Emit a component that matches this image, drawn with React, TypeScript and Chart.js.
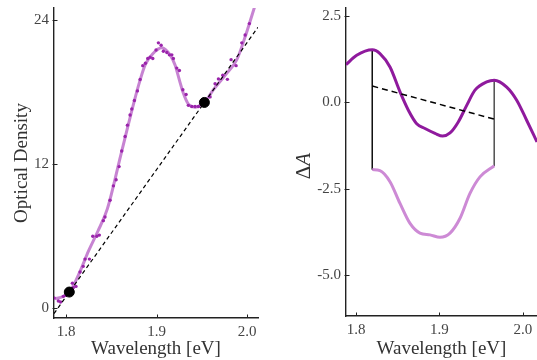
import React, { useEffect, useRef } from 'react';
import { Chart, registerables } from 'chart.js';

Chart.register(...registerables);

const FONT = "'Liberation Serif', 'Times New Roman', serif";

// ---------- Left panel: optical density ----------
const fitX = [1.7867, 1.797, 1.805, 1.815, 1.825, 1.835, 1.8457, 1.8606, 1.8755, 1.8818, 1.8876, 1.8958, 1.9057, 1.9149, 1.9204, 1.9252, 1.9296, 1.9351, 1.9425, 1.9525, 1.9628, 1.9757, 1.9886, 1.9978, 2.0033, 2.012];
const fitY = [0.8, 1.0, 1.5, 3.0, 4.8, 6.4, 8.3, 12.8, 17.3, 19.0, 20.3, 21.2, 21.7, 21.1, 20.25, 19.0, 17.9, 17.0, 16.75, 17.1, 18.2, 19.4, 20.7, 22.6, 23.9, 26.0];

const measX = [1.7867, 1.7915, 1.794, 1.797, 1.8, 1.807, 1.808, 1.811, 1.8155, 1.819, 1.821, 1.8258, 1.8295, 1.834, 1.8368, 1.8412, 1.843, 1.8486, 1.8523, 1.8553, 1.8586, 1.8615, 1.8652, 1.8678, 1.8707, 1.8726, 1.8755, 1.8788, 1.8818, 1.8847, 1.8876, 1.8902, 1.8928, 1.8958, 1.8994, 1.902, 1.905, 1.9075, 1.9113, 1.9141, 1.9168, 1.9185, 1.9223, 1.9252, 1.929, 1.9326, 1.9351, 1.9389, 1.9425, 1.9462, 1.9591, 1.9646, 1.9683, 1.9731, 1.9782, 1.9823, 1.9878, 1.9941, 1.9978, 2.0025];
const measY = [0.86, 0.61, 0.53, 1.0, 1.08, 2.1, 1.72, 1.83, 3.03, 3.5, 4.1, 4.1, 6.0, 6.0, 6.1, 7.3, 7.6, 9.0, 10.2, 10.7, 11.8, 13.1, 14.3, 15.25, 16.1, 16.6, 17.3, 18.1, 19.05, 20.2, 20.4, 20.8, 20.9, 20.8, 21.5, 22.1, 21.9, 21.4, 21.3, 21.1, 21.1, 20.8, 20.0, 19.8, 18.2, 17.8, 16.9, 16.8, 16.8, 16.8, 17.6, 18.7, 19.1, 19.4, 19.06, 20.7, 20.2, 22.1, 22.75, 23.7];

const baseX = [1.7867, 2.012];
const baseY = [-0.43, 23.4];
const anchorX = [1.8036, 1.9528];
const anchorY = [1.36, 17.14];

const leftXTicks = [1.8, 1.9, 2.0];
const leftYTicks = [0, 12, 24];

// ---------- Right panel: ΔA ----------
const dAX = [1.788, 1.8008, 1.8195, 1.8287, 1.8407, 1.8527, 1.8627, 1.8727, 1.8826, 1.8946, 1.9038, 1.9126, 1.9225, 1.9326, 1.9425, 1.9565, 1.9656, 1.9805, 1.9925, 2.0044, 2.0168];
const dAY = [1.09, 1.36, 1.52, 1.41, 1.02, 0.3, -0.23, -0.62, -0.76, -0.9, -0.98, -0.89, -0.57, -0.09, 0.35, 0.59, 0.64, 0.44, 0.06, -0.52, -1.15];

const corrX = [1.8195, 1.8287, 1.8407, 1.8527, 1.8647, 1.8766, 1.8886, 1.9006, 1.9126, 1.9246, 1.9365, 1.9485, 1.9656];
const corrY = [-1.95, -1.98, -2.3, -2.93, -3.51, -3.79, -3.84, -3.91, -3.79, -3.36, -2.64, -2.16, -1.84];

const chordX = [1.8195, 1.9656];
const chordY = [0.47, -0.49];
const leftEdgeY = [1.52, -1.95];
const rightEdgeY = [0.64, -1.84];

const rightXTicks = [1.8, 1.9, 2.0];
const rightYTicks = [2.5, 0, -2.5, -5.0];

const pts = (xs: number[], ys: number[]) => xs.map((x, i) => ({ x, y: ys[i] }));

const tickFont = { family: FONT, size: 15 };
const titleFont = { family: FONT, size: 19 };
const AXIS = '#222';
const TICKTXT = '#444';

function axisCommon() {
  return {
    grid: { display: true, drawOnChartArea: false, drawTicks: false, color: AXIS, lineWidth: 1 },
    border: { display: true, color: AXIS, width: 1.4 },
  };
}

function fixX(h: number) {
  return (s: any) => {
    s.height = h;
    s.paddingLeft = 0;
    s.paddingRight = 0;
  };
}
function fixY(w: number) {
  return (s: any) => {
    s.width = w;
    s.paddingTop = 0;
    s.paddingBottom = 0;
  };
}

// small inward tick marks, like the reference
const innerTicks = {
  id: 'innerTicks',
  afterDraw(chart: any) {
    const ctx = chart.ctx;
    const { x, y } = chart.scales;
    const a = chart.chartArea;
    ctx.save();
    ctx.strokeStyle = AXIS;
    ctx.lineWidth = 1;
    ctx.beginPath();
    x.ticks.forEach((t: any) => {
      const px = Math.round(x.getPixelForValue(t.value)) + 0.5;
      ctx.moveTo(px, a.bottom);
      ctx.lineTo(px, a.bottom - 3.5);
    });
    y.ticks.forEach((t: any) => {
      const py = Math.round(y.getPixelForValue(t.value)) + 0.5;
      ctx.moveTo(a.left - 1.5, py);
      ctx.lineTo(a.left + 3.5, py);
    });
    ctx.stroke();
    ctx.restore();
  },
};

const deltaALabel = {
  id: 'deltaALabel',
  afterDraw(chart: any) {
    const ctx = chart.ctx;
    ctx.save();
    ctx.translate(34, 166);
    ctx.rotate(-Math.PI / 2);
    ctx.fillStyle = '#333';
    ctx.textBaseline = 'middle';
    ctx.font = `21px ${FONT}`;
    const w1 = ctx.measureText('Δ').width;
    ctx.font = `italic 21px ${FONT}`;
    const w2 = ctx.measureText('A').width;
    const start = -(w1 + w2) / 2;
    ctx.font = `21px ${FONT}`;
    ctx.textAlign = 'left';
    ctx.fillText('Δ', start, 0);
    ctx.font = `italic 21px ${FONT}`;
    ctx.fillText('A', start + w1, 0);
    ctx.restore();
  },
};

export default function App() {
  const leftRef = useRef<HTMLCanvasElement>(null);
  const rightRef = useRef<HTMLCanvasElement>(null);

  useEffect(() => {
    const left = new Chart(leftRef.current!, {
      type: 'scatter',
      data: {
        datasets: [
          {
            label: 'fit',
            data: pts(fitX, fitY),
            showLine: true,
            borderColor: '#c784d2',
            borderWidth: 3,
            pointRadius: 0,
            cubicInterpolationMode: 'monotone',
            order: 4,
          },
          {
            label: 'measured',
            data: pts(measX, measY),
            showLine: false,
            backgroundColor: '#9a24ab',
            borderColor: '#9a24ab',
            pointRadius: 1.7,
            borderWidth: 0,
            order: 3,
          },
          {
            label: 'baseline',
            data: pts(baseX, baseY),
            showLine: true,
            borderColor: '#000',
            borderWidth: 1.2,
            borderDash: [4, 3],
            pointRadius: 0,
            order: 2,
          },
          {
            label: 'anchors',
            data: pts(anchorX, anchorY),
            showLine: false,
            backgroundColor: '#000',
            borderColor: '#000',
            pointRadius: 5,
            order: 1,
          },
        ],
      },
      options: {
        responsive: false,
        animation: false,
        layout: { padding: { left: 0, right: 12, top: 8, bottom: 0 } },
        plugins: { legend: { display: false }, tooltip: { enabled: false } },
        scales: {
          x: {
            type: 'linear',
            min: 1.7867,
            max: 2.012,
            ...axisCommon(),
            afterBuildTicks: (s: any) => { s.ticks = leftXTicks.map((v) => ({ value: v })); },
            afterFit: fixX(42),
            ticks: { font: tickFont, color: TICKTXT, padding: 5, callback: (v: any) => Number(v).toFixed(1) },
            title: { display: true, text: 'Wavelength [eV]', font: titleFont, color: '#333', padding: { top: 0, bottom: 0 } },
          },
          y: {
            type: 'linear',
            min: -0.8,
            max: 25,
            ...axisCommon(),
            afterBuildTicks: (s: any) => { s.ticks = leftYTicks.map((v) => ({ value: v })); },
            afterFit: fixY(54),
            ticks: { font: tickFont, color: TICKTXT, padding: 5, callback: (v: any) => String(v) },
            title: { display: true, text: 'Optical Density', font: titleFont, color: '#333', padding: { top: 11, bottom: 0 } },
          },
        },
      },
      plugins: [innerTicks],
    } as any);

    const right = new Chart(rightRef.current!, {
      type: 'scatter',
      data: {
        datasets: [
          {
            label: 'dA',
            data: pts(dAX, dAY),
            showLine: true,
            borderColor: '#8f1a9d',
            borderWidth: 3,
            pointRadius: 0,
            cubicInterpolationMode: 'monotone',
            order: 2,
          },
          {
            label: 'corrected',
            data: pts(corrX, corrY),
            showLine: true,
            borderColor: '#cd8ad5',
            borderWidth: 3,
            pointRadius: 0,
            cubicInterpolationMode: 'monotone',
            order: 3,
          },
          {
            label: 'chord',
            data: pts(chordX, chordY),
            showLine: true,
            borderColor: '#000',
            borderWidth: 1.5,
            borderDash: [6, 4],
            pointRadius: 0,
            order: 1,
          },
          {
            label: 'edgeL',
            data: pts([chordX[0], chordX[0]], leftEdgeY),
            showLine: true,
            borderColor: '#111',
            borderWidth: 1,
            pointRadius: 0,
            order: 4,
          },
          {
            label: 'edgeR',
            data: pts([chordX[1], chordX[1]], rightEdgeY),
            showLine: true,
            borderColor: '#555',
            borderWidth: 1,
            pointRadius: 0,
            order: 4,
          },
        ],
      },
      options: {
        responsive: false,
        animation: false,
        layout: { padding: { left: 0, right: 0, top: 8, bottom: 0 } },
        plugins: { legend: { display: false }, tooltip: { enabled: false } },
        scales: {
          x: {
            type: 'linear',
            min: 1.788,
            max: 2.0168,
            ...axisCommon(),
            afterBuildTicks: (s: any) => { s.ticks = rightXTicks.map((v) => ({ value: v })); },
            afterFit: fixX(44),
            ticks: { font: tickFont, color: TICKTXT, padding: 5, callback: (v: any) => Number(v).toFixed(1) },
            title: { display: true, text: 'Wavelength [eV]', font: titleFont, color: '#333', padding: { top: 0, bottom: 0 } },
          },
          y: {
            type: 'linear',
            min: -6.19,
            max: 2.73,
            ...axisCommon(),
            afterBuildTicks: (s: any) => { s.ticks = rightYTicks.map((v) => ({ value: v })); },
            afterFit: fixY(76),
            ticks: { font: tickFont, color: TICKTXT, padding: 5, callback: (v: any) => Number(v).toFixed(1) },
          },
        },
      },
      plugins: [deltaALabel, innerTicks],
    } as any);

    return () => {
      left.destroy();
      right.destroy();
    };
  }, []);

  return (
    <div style={{ position: 'fixed', left: 0, top: 0, width: 537, height: 360, background: '#fff' }}>
      <canvas ref={leftRef} width={270} height={360} style={{ position: 'absolute', left: 0, top: 0 }} />
      <canvas ref={rightRef} width={267} height={360} style={{ position: 'absolute', left: 270, top: 0 }} />
    </div>
  );
}
